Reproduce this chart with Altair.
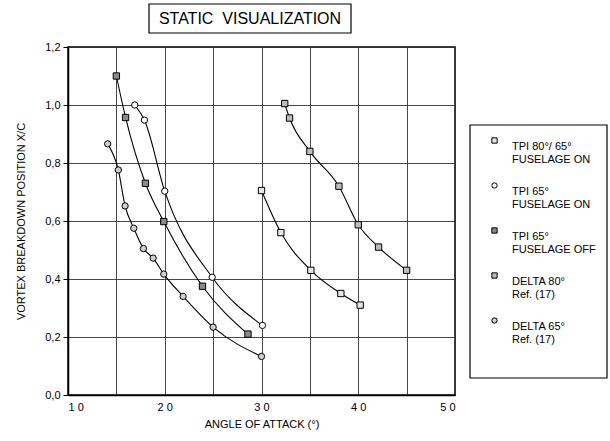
import altair as alt
import pandas as pd

# Series names ("|" marks the legend line break)
SERIES = [
    "TPI  80°/ 65°|FUSELAGE ON",
    "TPI  65°|FUSELAGE ON",
    "TPI  65°|FUSELAGE OFF",
    "DELTA 80°|Ref.  (17)",
    "DELTA 65°|Ref.  (17)",
]

# Angle of attack (deg) and vortex breakdown position x/c for each series
tpi_8065_on_x = [30.0, 32.0, 35.1, 38.2, 40.2]
tpi_8065_on_y = [0.705, 0.56, 0.43, 0.35, 0.31]

tpi_65_on_x = [16.9, 17.9, 20.0, 24.9, 30.1]
tpi_65_on_y = [1.00, 0.948, 0.703, 0.406, 0.24]

tpi_65_off_x = [15.0, 15.95, 18.0, 19.9, 23.9, 28.6]
tpi_65_off_y = [1.10, 0.957, 0.73, 0.598, 0.375, 0.21]

delta_80_x = [32.4, 32.9, 35.0, 38.0, 40.0, 42.1, 45.0]
delta_80_y = [1.005, 0.955, 0.84, 0.72, 0.587, 0.51, 0.43]

delta_65_x = [14.1, 15.2, 15.9, 16.8, 17.8, 18.8, 19.9, 21.9, 25.0, 30.0]
delta_65_y = [0.866, 0.776, 0.652, 0.575, 0.505, 0.472, 0.417, 0.34, 0.234, 0.133]

SHAPES = ["square", "circle", "square", "square", "circle"]
FILLS = ["#e6e6e6", "#ffffff", "#8a8a8a", "#bdbdbd", "#cfcfcf"]

X_TICKS = [10, 15, 20, 25, 30, 35, 40, 45, 50]
Y_TICKS = [round(i * 0.1, 1) for i in range(13)]

# non-breaking spaces keep the wide gap in SVG text
TITLE = "STATIC\u00a0\u00a0VISUALIZATION"
FONT = "Liberation Sans"

rows = []
for name, xs, ys in zip(
    SERIES,
    [tpi_8065_on_x, tpi_65_on_x, tpi_65_off_x, delta_80_x, delta_65_x],
    [tpi_8065_on_y, tpi_65_on_y, tpi_65_off_y, delta_80_y, delta_65_y],
):
    for order, (a, b) in enumerate(zip(xs, ys)):
        rows.append({"series": name, "alpha": a, "pos": b, "order": order})
df = pd.DataFrame(rows)

x_enc = alt.X(
    "alpha:Q",
    scale=alt.Scale(domain=[10, 50], nice=False, zero=False),
    axis=alt.Axis(
        title="ANGLE OF ATTACK  (°)",
        values=X_TICKS,
        labelExpr="datum.value % 10 == 0 ? substring(toString(datum.value), 0, 1) + ' ' + substring(toString(datum.value), 1) : ''",
        ticks=False,
        labelPadding=6,
        titlePadding=6,
        grid=True,
    ),
)
y_enc = alt.Y(
    "pos:Q",
    scale=alt.Scale(domain=[0, 1.2], nice=False),
    axis=alt.Axis(
        title="VORTEX BREAKDOWN POSITION  X/C",
        values=Y_TICKS,
        labelExpr="round(datum.value * 10) % 2 == 0 ? replace(format(datum.value, '.1f'), '.', ',') : ''",
        tickSize=5,
        labelPadding=3,
        titlePadding=18,
        grid=True,
    ),
)

base = alt.Chart(df)

curves = base.mark_line(interpolate="monotone", color="black", strokeWidth=1.1).encode(
    x=x_enc, y=y_enc, detail="series:N", order="order:Q"
)

legend = alt.Legend(
    title=None,
    orient="none",
    legendX=402,
    legendY=78,
    labelExpr="split(datum.label, '|')",
    labelBaseline="top",
    labelFont=FONT,
    labelFontSize=11,
    labelColor="black",
    labelOffset=12,
    labelLimit=200,
    rowPadding=15,
    padding=10,
    symbolOffset=9,
    symbolSize=28,
    symbolStrokeWidth=1,
)

markers = base.mark_point(size=40, strokeWidth=1, fillOpacity=1, opacity=1).encode(
    x="alpha:Q",
    y="pos:Q",
    shape=alt.Shape("series:N", scale=alt.Scale(domain=SERIES, range=SHAPES), legend=legend),
    fill=alt.Fill("series:N", scale=alt.Scale(domain=SERIES, range=FILLS), legend=legend),
    stroke=alt.Stroke("series:N", scale=alt.Scale(domain=SERIES, range=["black"] * 5), legend=legend),
)

deco_df = pd.DataFrame({"t": [TITLE]})

# frame around the legend entries
legend_frame = alt.Chart(deco_df).mark_rect(fill="white", stroke="black", strokeWidth=1.2).encode(
    x=alt.value(402), x2=alt.value(539), y=alt.value(78), y2=alt.value(331)
)

# boxed chart title
title_box = alt.Chart(deco_df).mark_rect(fill="white", stroke="black", strokeWidth=1.2).encode(
    x=alt.value(81), x2=alt.value(283), y=alt.value(-43), y2=alt.value(-14)
)
title_text = alt.Chart(deco_df).mark_text(
    font=FONT, fontSize=16, color="black", align="center", baseline="middle"
).encode(text="t:N", x=alt.value(182), y=alt.value(-28))

chart = (
    alt.layer(legend_frame, curves, markers, title_box, title_text)
    .properties(
        width=387,
        height=348,
        autosize=alt.AutoSizeParams(type="none"),
        padding={"left": 68, "top": 47, "right": 155, "bottom": 46},
        background="white",
    )
    .configure_view(stroke="black", strokeWidth=1.5)
    .configure_axis(
        labelFont=FONT,
        titleFont=FONT,
        labelFontSize=11,
        titleFontSize=11,
        titleFontWeight="normal",
        labelColor="black",
        titleColor="black",
        domainColor="black",
        tickColor="black",
        gridColor="#333333",
        gridWidth=1,
        gridOpacity=0.9,
        domainWidth=1.5,
    )
)

chart.save("out.html", embed_options={"renderer": "svg", "actions": False})
